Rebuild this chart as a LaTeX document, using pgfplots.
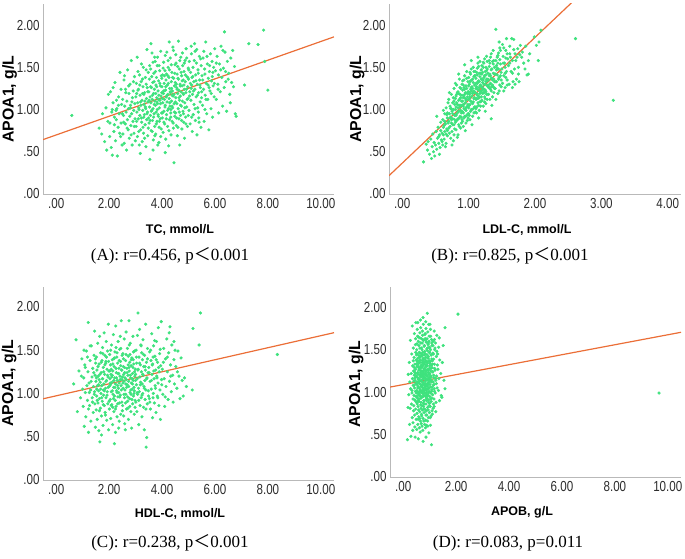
\documentclass[border=0pt]{standalone}
\usepackage{fontspec}
\usepackage{graphicx}
\usepackage{pgfplots}
\pgfplotsset{compat=1.18}
\setmainfont{Liberation Sans}
\newfontfamily\tickfont[FakeStretch=0.8]{Liberation Sans}
\newfontfamily\capfont{Liberation Serif}
\newfontfamily\cjk{Noto Sans CJK SC}
\definecolor{ptgreen}{RGB}{62,226,125}
\definecolor{fitorange}{RGB}{235,110,55}
\definecolor{axgray}{RGB}{185,185,185}
\definecolor{tickgray}{RGB}{45,45,45}
\pgfplotsset{
  panel/.style={
    scale only axis, anchor=south west,
    axis x line*=bottom, axis y line*=left,
    axis line style={axgray, line width=0.8pt, -},
    major tick length=0pt, ymin=0,
    ytick={0,0.5,1,1.5,2}, yticklabels={.00,.50,1.00,1.50,2.00},
    tick label style={font=\tickfont\fontsize{14.5}{15}\selectfont, text=tickgray},
    xticklabel style={yshift=-1pt},
  },
  wide/.style={xmin=-0.5, xmax=10.5, xtick={0,2,4,6,8,10},
    xticklabels={.00,2.00,4.00,6.00,8.00,10.00}},
  pts/.style={only marks, mark=*, color=ptgreen, mark size=1.4pt},
  fit/.style={no marks, fitorange, line width=1.2pt},
}
\newcommand{\ylab}{\bfseries\fontsize{15.8}{16}\selectfont}
\newcommand{\xlab}{\bfseries\fontsize{12.5}{14}\selectfont}
\newcommand{\caplab}{\capfont\fontsize{17}{18}\selectfont}
\begin{document}
\begin{tikzpicture}
\useasboundingbox (0,0) rectangle (685pt,559pt);
% ---------------- (A) TC ----------------
\begin{axis}[panel, wide, at={(43pt,365pt)}, width=291pt, height=190pt, ymax=2.25]
\addplot[pts] coordinates {
(1.62,0.78) (1.75,0.95) (1.83,0.62) (1.88,1.02) (1.91,0.52) (1.95,0.86) (1.97,1.18) (1.72,0.71)
(2.03,0.84) (2.05,1.21) (2.08,0.55) (2.10,0.97) (2.12,0.46) (2.15,1.08) (2.18,0.74) (2.20,0.91) (2.22,1.32) (2.24,0.63) (2.27,0.88) (2.29,1.01) (2.31,0.45) (2.34,0.79) (2.36,1.15) (2.38,0.95) (2.41,1.44) (2.43,0.68) (2.45,0.84) (2.47,1.06) (2.49,0.58) (2.26,0.99)
(2.51,1.12) (2.52,0.71) (2.54,0.93) (2.56,1.35) (2.57,0.60) (2.59,1.04) (2.61,0.83) (2.62,1.24) (2.64,0.97) (2.66,0.52) (2.67,1.10) (2.69,0.88) (2.70,1.47) (2.72,0.76) (2.73,1.01) (2.75,1.19) (2.76,0.66) (2.78,0.92) (2.79,1.30) (2.81,1.05) (2.82,0.81) (2.84,1.58) (2.85,0.95) (2.87,0.58) (2.88,1.14) (2.90,0.86) (2.91,1.22) (2.93,0.99) (2.94,0.72) (2.96,1.39) (2.97,1.07) (2.98,0.89) (2.99,0.63) (2.55,0.85) (2.80,1.02)
(3.01,1.15) (3.02,0.80) (3.03,1.31) (3.05,0.97) (3.06,1.62) (3.07,0.68) (3.08,1.08) (3.10,0.89) (3.11,1.24) (3.12,1.02) (3.14,0.58) (3.15,1.41) (3.16,0.93) (3.17,1.17) (3.19,0.76) (3.20,1.05) (3.21,1.33) (3.23,0.85) (3.24,1.11) (3.25,0.62) (3.27,0.99) (3.28,1.27) (3.29,1.50) (3.30,0.72) (3.32,1.06) (3.33,0.94) (3.34,1.20) (3.36,0.82) (3.37,1.38) (3.38,1.01) (3.39,0.56) (3.41,1.13) (3.42,0.88) (3.43,1.71) (3.44,1.26) (3.45,0.97) (3.46,0.69) (3.47,1.09) (3.48,1.44) (3.49,0.90) (3.13,1.00) (3.22,1.54) (3.35,1.10) (3.18,0.48) (3.26,1.19) (3.31,0.91) (3.40,1.30) (3.09,1.23)
(3.50,1.21) (3.51,0.84) (3.52,1.36) (3.53,1.03) (3.54,0.41) (3.55,1.15) (3.56,0.93) (3.57,1.48) (3.58,1.08) (3.59,0.75) (3.60,1.26) (3.61,0.99) (3.62,1.67) (3.63,1.12) (3.64,0.87) (3.65,1.32) (3.66,1.01) (3.67,0.64) (3.68,1.19) (3.69,1.43) (3.70,0.95) (3.71,1.24) (3.72,0.80) (3.73,1.10) (3.74,1.57) (3.75,1.05) (3.76,0.71) (3.77,1.29) (3.78,0.97) (3.79,1.38) (3.80,1.14) (3.81,0.86) (3.82,1.52) (3.83,1.07) (3.84,0.58) (3.85,1.22) (3.86,0.92) (3.87,1.34) (3.88,1.17) (3.89,0.79) (3.90,1.02) (3.91,1.46) (3.92,1.11) (3.93,0.89) (3.94,1.28) (3.95,0.68) (3.96,1.16) (3.97,1.40) (3.98,0.96) (3.99,1.20) (3.58,1.78) (3.72,1.62) (3.66,0.52) (3.88,0.61) (3.81,1.09)
(4.00,1.27) (4.01,0.90) (4.02,1.41) (4.03,1.08) (4.04,0.73) (4.05,1.19) (4.06,1.56) (4.07,0.98) (4.08,1.31) (4.09,1.12) (4.10,0.83) (4.11,1.46) (4.12,1.05) (4.13,1.23) (4.14,0.65) (4.15,1.35) (4.16,1.15) (4.17,0.94) (4.18,1.68) (4.19,1.09) (4.20,1.29) (4.21,0.80) (4.22,1.18) (4.23,1.50) (4.24,1.01) (4.25,0.57) (4.26,1.38) (4.27,1.13) (4.28,0.88) (4.29,1.25) (4.30,1.04) (4.31,1.61) (4.32,1.20) (4.33,0.96) (4.34,0.70) (4.35,1.33) (4.36,1.10) (4.37,1.44) (4.38,0.86) (4.39,1.22) (4.40,1.02) (4.41,1.74) (4.42,1.16) (4.43,0.78) (4.44,1.37) (4.45,0.37) (4.46,1.07) (4.47,1.28) (4.48,0.92) (4.49,1.53) (4.12,0.49) (4.27,1.80) (4.33,1.00) (4.22,1.40) (4.38,1.17)
(4.50,1.32) (4.51,0.96) (4.52,1.14) (4.53,1.55) (4.54,0.81) (4.55,1.26) (4.56,1.07) (4.57,1.42) (4.58,0.69) (4.59,1.19) (4.60,1.37) (4.61,1.01) (4.62,1.81) (4.63,1.23) (4.64,0.89) (4.65,1.48) (4.66,1.11) (4.67,0.58) (4.68,1.30) (4.69,1.16) (4.70,0.93) (4.71,1.62) (4.72,1.21) (4.73,1.04) (4.74,1.40) (4.75,0.77) (4.76,1.28) (4.77,1.10) (4.78,1.52) (4.79,0.98) (4.80,1.35) (4.81,1.18) (4.82,0.85) (4.83,1.45) (4.84,1.24) (4.85,0.66) (4.86,1.08) (4.87,1.58) (4.88,1.33) (4.89,0.91) (4.90,1.20) (4.91,1.72) (4.93,1.03) (4.94,1.39) (4.96,0.80) (4.97,1.27) (4.98,1.13) (4.99,1.49)
(5.00,1.36) (5.02,0.99) (5.03,1.57) (5.05,1.21) (5.06,0.83) (5.08,1.44) (5.09,1.11) (5.11,1.66) (5.12,1.29) (5.14,0.74) (5.15,1.18) (5.17,1.50) (5.18,0.94) (5.20,1.33) (5.21,1.06) (5.23,1.78) (5.24,1.24) (5.26,0.87) (5.27,1.41) (5.29,1.15) (5.30,1.55) (5.32,0.70) (5.33,1.30) (5.35,1.02) (5.36,1.47) (5.38,1.20) (5.39,0.90) (5.41,1.63) (5.42,1.35) (5.44,1.09) (5.45,1.26) (5.47,0.79) (5.48,1.52) (5.49,1.14) (5.13,1.38) (5.25,1.69) (5.37,0.97) (5.10,1.25)
(5.51,1.40) (5.53,1.05) (5.55,1.61) (5.57,1.24) (5.59,0.86) (5.61,1.48) (5.63,1.17) (5.65,1.80) (5.67,1.31) (5.69,0.95) (5.71,1.54) (5.73,1.12) (5.75,1.37) (5.77,0.76) (5.79,1.45) (5.81,1.22) (5.83,1.66) (5.85,1.01) (5.87,1.34) (5.89,1.57) (5.91,0.91) (5.93,1.28) (5.95,1.50) (5.97,1.15) (5.99,1.72) (5.62,1.00) (5.78,1.26) (5.90,1.39)
(6.02,1.46) (6.05,1.12) (6.08,1.63) (6.11,1.30) (6.14,0.96) (6.17,1.54) (6.20,1.21) (6.23,1.75) (6.26,1.38) (6.29,1.04) (6.32,1.49) (6.35,1.26) (6.38,1.68) (6.41,1.33) (6.44,0.98) (6.47,1.57) (6.36,1.92) (6.13,1.41)
(6.52,1.43) (6.56,1.18) (6.60,1.61) (6.63,1.32) (6.67,1.70) (6.70,1.27) (6.74,1.51) (6.77,0.95) (6.80,0.92) (6.58,1.08)
(0.59,0.93) (8.00,1.23) (7.84,1.94) (7.28,1.78) (7.63,1.77) (7.88,1.57) (7.12,1.29)
};
\addplot[pts] coordinates {
(2.63,1.20) (2.68,0.78) (2.74,1.28) (2.83,0.70) (2.86,1.09) (2.92,1.33) (2.95,0.80) (3.04,1.19) (3.04,0.86) (3.09,1.45) (3.12,0.74) (3.16,1.29) (3.19,1.09) (3.22,0.90) (3.26,1.36) (3.28,0.79) (3.31,1.18) (3.34,0.66) (3.37,1.03) (3.40,1.47) (3.43,0.95) (3.46,1.21) (3.48,0.78) (3.51,1.11) (3.53,1.52) (3.55,0.87) (3.57,1.27) (3.59,0.98) (3.61,1.39) (3.63,0.74) (3.64,1.17) (3.66,1.56) (3.68,0.91) (3.70,1.33) (3.71,1.06) (3.73,0.69) (3.75,1.45) (3.76,1.19) (3.78,0.83) (3.80,1.27) (3.82,1.00) (3.83,1.62) (3.85,0.94) (3.87,1.12) (3.89,1.52) (3.90,0.86) (3.92,1.31) (3.94,1.07) (3.95,1.69) (3.97,0.77) (3.99,1.37)
(4.01,1.13) (4.02,0.96) (4.04,1.49) (4.06,1.22) (4.07,0.85) (4.09,1.40) (4.11,1.03) (4.12,1.64) (4.14,1.27) (4.16,0.89) (4.17,1.42) (4.19,1.17) (4.21,0.99) (4.23,1.58) (4.24,1.31) (4.26,0.75) (4.28,1.47) (4.29,1.08) (4.31,1.21) (4.33,0.91) (4.35,1.53) (4.36,1.25) (4.38,1.04) (4.40,1.38) (4.42,0.84) (4.43,1.70) (4.45,1.18) (4.47,0.97) (4.48,1.43) (4.50,1.09) (4.52,1.65) (4.54,1.30) (4.55,0.90) (4.57,1.24) (4.59,1.51) (4.60,0.79) (4.62,1.36) (4.64,1.14) (4.65,0.97) (4.67,1.58) (4.69,1.28) (4.70,1.05) (4.72,1.44) (4.74,0.87) (4.76,1.34) (4.77,1.67) (4.79,1.19) (4.81,0.95) (4.83,1.29) (4.84,1.55) (4.86,1.02) (4.88,1.41) (4.90,0.83) (4.92,1.24) (4.93,1.61) (4.95,1.12) (4.97,1.38) (4.99,0.93)
(5.01,1.47) (5.04,1.16) (5.07,1.31) (5.10,1.75) (5.12,0.91) (5.16,1.39) (5.19,1.22) (5.22,1.58) (5.25,1.01) (5.28,1.34) (5.31,1.71) (5.34,1.17) (5.37,1.43) (5.40,0.85) (5.43,1.29) (5.46,1.60) (5.50,1.21) (5.54,1.35) (5.58,1.69) (5.62,1.42) (5.66,1.12) (5.70,1.63) (5.74,1.29) (5.80,1.52) (5.86,1.19) (5.92,1.44) (5.98,1.31) (6.05,1.55) (6.12,1.24) (6.22,1.47) (6.30,1.70) (6.40,1.45) (6.50,1.36)
(2.35,1.05) (2.40,0.72) (2.45,1.24) (2.20,0.82) (2.28,1.11) (2.50,0.95) (2.58,1.40) (2.12,1.00) (2.02,0.68) (2.15,1.26)
};
\addplot[fit] coordinates {(-0.5,0.644) (10.5,1.861)};
\end{axis}
% ---------------- (B) LDL-C ----------------
\begin{axis}[panel, at={(389pt,365pt)}, width=292pt, height=190pt, ymax=2.25,
  xmin=-0.2, xmax=4.2, xtick={0,1,2,3,4}, xticklabels={.00,1.00,2.00,3.00,4.00}]
\addplot[pts] coordinates {
(0.32,0.38) (0.36,0.59) (0.38,0.52) (0.39,0.62)
(0.41,0.47) (0.43,0.65) (0.44,0.42) (0.45,0.56) (0.46,0.71) (0.47,0.50) (0.48,0.61) (0.49,0.45)
(0.50,0.58) (0.51,0.74) (0.52,0.53) (0.53,0.66) (0.54,0.79) (0.55,0.60) (0.56,0.70) (0.57,0.55) (0.58,0.85) (0.59,0.64) (0.52,0.92) (0.56,0.47)
(0.60,0.72) (0.61,0.58) (0.61,0.88) (0.62,0.79) (0.63,0.65) (0.64,0.95) (0.64,0.74) (0.65,0.83) (0.66,0.60) (0.66,1.02) (0.67,0.77) (0.68,0.90) (0.68,0.69) (0.69,0.84) (0.69,1.08) (0.62,0.99) (0.65,0.56) (0.67,0.94) (0.63,0.81) (0.68,0.75)
(0.70,0.86) (0.70,1.12) (0.71,0.72) (0.71,0.95) (0.72,0.80) (0.72,1.04) (0.73,0.66) (0.73,0.91) (0.74,1.18) (0.74,0.84) (0.75,0.98) (0.75,0.74) (0.76,1.08) (0.76,0.89) (0.77,0.63) (0.77,1.00) (0.78,0.82) (0.78,1.25) (0.79,0.93) (0.79,0.77) (0.71,1.20) (0.73,1.01) (0.75,0.58) (0.76,0.95) (0.77,1.14) (0.78,0.70) (0.74,0.88) (0.79,1.06)
(0.80,1.00) (0.80,0.85) (0.81,1.16) (0.81,0.76) (0.82,0.95) (0.82,1.29) (0.83,0.88) (0.83,1.06) (0.84,0.70) (0.84,1.21) (0.85,0.98) (0.85,0.82) (0.86,1.12) (0.86,1.36) (0.87,0.92) (0.87,1.03) (0.88,0.78) (0.88,1.25) (0.89,0.96) (0.89,1.10) (0.80,1.31) (0.81,0.93) (0.82,1.08) (0.83,0.67) (0.84,1.02) (0.85,1.42) (0.86,0.90) (0.87,1.18) (0.88,0.99) (0.89,0.84) (0.82,1.18) (0.84,0.89) (0.86,1.05) (0.88,1.14)
(0.90,1.05) (0.90,0.88) (0.91,1.23) (0.91,0.97) (0.92,1.14) (0.92,0.80) (0.93,1.35) (0.93,1.01) (0.94,0.92) (0.94,1.18) (0.95,1.08) (0.95,0.75) (0.96,1.28) (0.96,0.99) (0.97,1.12) (0.97,1.45) (0.98,0.87) (0.98,1.04) (0.99,1.21) (0.99,0.95) (0.90,1.30) (0.91,1.10) (0.92,0.96) (0.93,1.16) (0.94,1.40) (0.95,1.00) (0.96,0.84) (0.97,1.25) (0.98,1.15) (0.99,1.06) (0.91,0.86) (0.93,1.26) (0.95,1.20) (0.97,0.93) (0.99,1.33) (0.92,1.04) (0.96,1.11) (0.94,1.53)
(1.00,1.12) (1.00,0.95) (1.01,1.30) (1.01,1.05) (1.02,1.20) (1.02,0.88) (1.03,1.42) (1.03,1.10) (1.04,1.00) (1.04,1.26) (1.05,1.16) (1.05,0.82) (1.06,1.36) (1.06,1.07) (1.07,1.21) (1.07,1.50) (1.08,0.96) (1.08,1.13) (1.09,1.29) (1.09,1.03) (1.00,1.38) (1.01,1.18) (1.02,1.06) (1.03,1.24) (1.04,1.48) (1.05,1.09) (1.06,0.92) (1.07,1.32) (1.08,1.22) (1.09,1.14) (1.01,0.93) (1.03,1.34) (1.05,1.27) (1.07,1.01) (1.09,1.40) (1.02,1.15) (1.06,1.19) (1.04,1.58) (1.08,1.45) (1.00,1.02)
(1.10,1.20) (1.10,1.03) (1.11,1.37) (1.11,1.12) (1.12,1.27) (1.12,0.96) (1.13,1.49) (1.13,1.17) (1.14,1.08) (1.14,1.33) (1.15,1.23) (1.15,0.90) (1.16,1.43) (1.16,1.14) (1.17,1.28) (1.17,1.57) (1.18,1.04) (1.18,1.21) (1.19,1.36) (1.19,1.10) (1.10,1.45) (1.11,1.25) (1.12,1.13) (1.13,1.31) (1.14,1.55) (1.15,1.16) (1.16,0.99) (1.17,1.39) (1.18,1.29) (1.19,1.22) (1.11,1.01) (1.13,1.41) (1.15,1.34) (1.17,1.09) (1.19,1.47) (1.12,1.19) (1.16,1.26) (1.14,1.62)
(1.20,1.27) (1.20,1.11) (1.21,1.44) (1.21,1.19) (1.22,1.35) (1.22,1.04) (1.23,1.55) (1.23,1.24) (1.24,1.15) (1.24,1.40) (1.25,1.30) (1.25,0.98) (1.26,1.50) (1.26,1.21) (1.27,1.36) (1.27,1.63) (1.28,1.12) (1.28,1.28) (1.29,1.43) (1.29,1.18) (1.20,1.52) (1.21,1.32) (1.22,1.20) (1.23,1.38) (1.24,1.60) (1.25,1.23) (1.26,1.07) (1.27,1.46) (1.28,1.34) (1.29,1.29) (1.22,1.25) (1.24,1.09) (1.26,1.41) (1.28,1.57)
(1.30,1.35) (1.30,1.18) (1.31,1.51) (1.31,1.26) (1.32,1.42) (1.32,1.12) (1.33,1.62) (1.33,1.31) (1.34,1.22) (1.34,1.47) (1.35,1.37) (1.35,1.05) (1.36,1.57) (1.36,1.29) (1.37,1.43) (1.37,1.70) (1.38,1.20) (1.38,1.36) (1.39,1.50) (1.39,1.25) (1.31,1.58) (1.33,1.40) (1.35,1.27) (1.37,1.54) (1.39,1.33) (1.34,0.89) (1.36,1.15) (1.34,1.66)
(1.40,1.42) (1.40,1.25) (1.41,1.58) (1.42,1.33) (1.43,1.49) (1.44,1.19) (1.45,1.67) (1.46,1.38) (1.47,1.29) (1.48,1.54) (1.49,1.44) (1.41,1.12) (1.43,1.62) (1.45,1.36) (1.47,1.73) (1.49,1.27) (1.42,1.47) (1.44,1.55) (1.46,1.22) (1.48,1.40) (1.41,1.95) (1.46,1.80)
(1.50,1.48) (1.51,1.31) (1.52,1.63) (1.53,1.40) (1.54,1.55) (1.55,1.26) (1.56,1.70) (1.57,1.45) (1.58,1.35) (1.59,1.60) (1.51,1.77) (1.53,1.22) (1.55,1.50) (1.57,1.84) (1.58,1.29) (1.56,1.38)
(1.60,1.52) (1.61,1.30) (1.62,1.66) (1.64,1.45) (1.65,1.84) (1.66,1.58) (1.67,1.33) (1.68,1.71) (1.69,1.48) (1.63,1.62) (1.66,1.26) (1.68,1.83)
(1.71,1.58) (1.72,1.36) (1.74,1.72) (1.75,1.50) (1.77,1.65) (1.78,1.76) (1.73,1.62)
(1.81,1.68) (1.83,1.55) (1.86,1.75) (1.88,1.41) (1.90,1.58) (1.90,1.42)
(1.99,1.86) (2.06,1.80) (2.09,1.94) (2.02,1.76) (2.05,1.58)
(2.61,1.84) (3.18,1.11)
};
\addplot[pts] coordinates {
(0.72,0.90) (0.74,1.01) (0.76,0.82) (0.78,1.10) (0.79,0.88) (0.81,1.03) (0.82,0.87) (0.83,1.20) (0.84,0.97) (0.85,1.11) (0.86,0.80) (0.87,1.26) (0.88,1.05) (0.89,0.91) (0.90,1.17) (0.91,1.34) (0.92,1.06) (0.93,0.90) (0.94,1.24) (0.95,1.13) (0.96,1.02) (0.97,1.37) (0.98,1.19) (0.99,0.90)
(1.00,1.28) (1.01,1.13) (1.02,1.44) (1.03,0.98) (1.04,1.22) (1.05,1.35) (1.06,1.25) (1.07,1.09) (1.08,1.39) (1.09,1.20) (1.10,0.97) (1.11,1.31) (1.12,1.44) (1.13,1.24) (1.14,1.13) (1.15,1.51) (1.16,1.33) (1.17,1.19) (1.18,1.43) (1.19,1.15) (1.20,1.36) (1.21,1.24) (1.22,1.50) (1.23,1.30) (1.24,1.20) (1.25,1.45) (1.26,1.33) (1.27,1.18) (1.28,1.48) (1.29,1.36)
(1.30,1.26) (1.31,1.40) (1.32,1.55) (1.33,1.24) (1.34,1.37) (1.35,1.48) (1.36,1.35) (1.37,1.27) (1.38,1.58) (1.39,1.42) (1.40,1.33) (1.42,1.52) (1.43,1.41) (1.45,1.48) (1.47,1.59) (1.49,1.35) (1.52,1.55) (1.55,1.43) (1.58,1.66) (1.62,1.55) (1.66,1.43) (1.70,1.66)
(0.66,0.71) (0.68,0.96) (0.70,0.78) (0.64,0.86) (0.62,0.70) (0.58,0.75) (0.55,0.68) (0.60,0.62) (1.05,1.00) (0.95,0.92) (1.15,1.05) (1.00,1.21) (0.90,0.98) (1.10,1.40) (1.25,1.13) (1.20,1.42) (0.85,1.19) (0.80,1.13) (0.92,1.29) (1.02,1.33) (1.12,1.03) (1.22,1.56) (1.32,1.30) (1.44,1.64) (1.53,1.73) (1.62,1.75) (1.75,1.42) (1.80,1.62) (1.85,1.48) (1.70,1.30) (1.76,1.33) (1.92,1.66) (1.56,1.61) (1.48,1.70)
};
\addplot[fit] coordinates {(-0.2,0.217) (2.8,2.45)};
\end{axis}
% ---------------- (C) HDL-C ----------------
\begin{axis}[panel, wide, at={(43pt,79pt)}, width=291pt, height=193pt, ymax=2.23]
\addplot[pts] coordinates {
(0.66,1.11) (0.75,1.62) (0.80,0.79) (0.86,1.26) (0.92,0.95) (0.97,1.40)
(1.02,0.85) (1.04,1.18) (1.06,0.62) (1.08,1.33) (1.10,1.01) (1.12,0.73) (1.14,1.49) (1.16,1.09) (1.18,0.92) (1.20,1.25) (1.21,1.82) (1.22,0.55) (1.24,1.12) (1.26,0.86) (1.28,1.38) (1.30,1.04) (1.31,0.68) (1.33,1.55) (1.35,1.19) (1.36,0.95) (1.38,1.29) (1.40,0.78) (1.41,1.08) (1.43,1.44) (1.44,0.99) (1.45,1.72) (1.46,0.88) (1.47,1.21) (1.48,0.61) (1.49,1.35)
(1.50,1.14) (1.51,0.81) (1.52,1.42) (1.53,0.97) (1.54,1.27) (1.55,0.70) (1.56,1.09) (1.57,1.58) (1.58,0.89) (1.59,1.20) (1.60,1.03) (1.61,0.57) (1.62,1.34) (1.63,0.94) (1.64,1.66) (1.65,0.44) (1.66,1.13) (1.67,0.83) (1.68,1.47) (1.69,1.00) (1.70,1.24) (1.71,0.74) (1.72,1.09) (1.73,1.38) (1.74,0.91) (1.75,1.53) (1.76,1.17) (1.77,0.63) (1.78,1.30) (1.79,0.98) (1.80,1.11) (1.81,1.70) (1.82,0.86) (1.83,1.22) (1.84,1.44) (1.85,0.78) (1.86,1.06) (1.87,1.35) (1.88,0.95) (1.89,1.60) (1.90,1.15) (1.91,0.69) (1.92,1.28) (1.93,1.02) (1.94,1.49) (1.95,0.88) (1.96,1.19) (1.97,1.80) (1.98,0.58) (1.99,1.26) (1.53,1.05) (1.62,1.16) (1.71,0.52) (1.78,1.04) (1.88,1.37)
(2.00,1.08) (2.01,0.82) (2.02,1.45) (2.03,1.17) (2.04,0.93) (2.05,1.33) (2.06,0.71) (2.07,1.22) (2.08,1.02) (2.09,1.56) (2.10,0.87) (2.11,1.13) (2.12,1.39) (2.13,0.64) (2.14,1.26) (2.15,0.99) (2.16,1.68) (2.17,1.07) (2.18,0.79) (2.19,1.31) (2.20,0.42) (2.21,1.18) (2.22,1.48) (2.23,0.92) (2.24,1.11) (2.25,1.78) (2.26,0.85) (2.27,1.24) (2.28,1.03) (2.29,1.42) (2.30,0.73) (2.31,1.15) (2.32,1.35) (2.33,0.96) (2.34,1.60) (2.35,1.06) (2.36,0.60) (2.37,1.29) (2.38,1.12) (2.39,0.89) (2.40,1.51) (2.41,1.20) (2.42,0.98) (2.43,1.37) (2.44,0.76) (2.45,1.09) (2.46,1.84) (2.47,1.27) (2.48,0.90) (2.49,1.44) (2.05,1.10) (2.12,1.21) (2.18,1.40) (2.24,0.55) (2.30,1.01) (2.36,1.23) (2.42,1.66) (2.48,1.16) (2.08,1.28) (2.20,0.97) (2.32,1.09) (2.44,1.32) (2.14,0.84) (2.26,1.53) (2.38,0.68)
(2.50,1.19) (2.51,0.86) (2.52,1.46) (2.53,1.06) (2.54,1.31) (2.55,0.74) (2.56,1.14) (2.57,1.63) (2.58,0.95) (2.59,1.24) (2.60,1.04) (2.61,0.58) (2.62,1.38) (2.63,0.99) (2.64,1.71) (2.65,1.16) (2.66,0.82) (2.67,1.29) (2.68,1.10) (2.69,1.52) (2.70,0.91) (2.71,1.21) (2.72,1.43) (2.73,0.70) (2.74,1.08) (2.75,1.84) (2.76,1.26) (2.77,0.94) (2.78,1.36) (2.79,1.01) (2.80,1.58) (2.81,1.18) (2.82,0.79) (2.83,1.32) (2.84,1.12) (2.85,0.60) (2.86,1.41) (2.87,1.05) (2.88,1.23) (2.89,0.88) (2.90,1.66) (2.91,1.15) (2.92,0.97) (2.93,1.34) (2.94,1.07) (2.95,0.76) (2.96,1.49) (2.97,1.20) (2.98,0.92) (2.99,1.28) (2.55,1.22) (2.63,1.11) (2.71,0.83) (2.79,1.45) (2.87,1.17) (2.95,1.03) (2.59,0.65) (2.75,1.30) (2.83,0.99) (2.91,1.39)
(3.00,1.22) (3.01,0.90) (3.02,1.50) (3.03,1.10) (3.04,1.35) (3.05,0.79) (3.06,1.17) (3.07,1.67) (3.08,0.99) (3.09,1.93) (3.10,1.28) (3.11,1.06) (3.12,0.64) (3.13,1.42) (3.14,1.02) (3.15,1.74) (3.16,1.19) (3.17,0.86) (3.18,1.33) (3.19,1.13) (3.20,1.56) (3.21,0.95) (3.22,1.25) (3.23,1.47) (3.24,0.73) (3.25,1.11) (3.26,1.39) (3.27,1.00) (3.28,1.62) (3.29,1.21) (3.30,0.84) (3.31,1.31) (3.32,1.08) (3.33,0.58) (3.34,1.44) (3.35,1.15) (3.36,0.93) (3.37,1.27) (3.38,1.80) (3.39,1.04) (3.40,0.38) (3.41,1.36) (3.42,0.49) (3.43,1.18) (3.44,0.88) (3.45,1.52) (3.47,1.24) (3.49,0.97)
(3.50,1.30) (3.52,0.94) (3.53,1.48) (3.55,1.14) (3.56,0.82) (3.58,1.38) (3.59,1.05) (3.61,1.69) (3.62,1.22) (3.64,0.72) (3.65,1.34) (3.67,1.00) (3.68,1.55) (3.70,1.17) (3.71,0.89) (3.73,1.43) (3.74,1.09) (3.76,1.27) (3.77,0.78) (3.79,1.60) (3.80,1.20) (3.82,0.97) (3.83,1.36) (3.85,1.12) (3.86,1.76) (3.88,0.86) (3.89,1.25) (3.91,1.46) (3.92,1.04) (3.94,0.70) (3.95,1.32) (3.97,1.83) (3.98,1.16) (3.66,1.42) (3.84,0.95)
(4.01,1.28) (4.03,0.99) (4.06,1.52) (4.08,1.17) (4.10,0.85) (4.13,1.40) (4.15,1.08) (4.18,1.63) (4.20,1.25) (4.23,0.93) (4.25,1.47) (4.28,1.14) (4.30,1.77) (4.32,1.33) (4.35,1.02) (4.37,1.56) (4.40,1.21) (4.42,0.90) (4.45,1.39) (4.47,1.11) (4.49,1.50) (4.27,1.70)
(4.52,1.31) (4.56,1.06) (4.60,1.49) (4.64,1.20) (4.68,0.94) (4.72,1.41) (4.76,1.15) (4.80,0.97) (4.85,1.18) (4.92,1.08)
(5.14,1.04) (5.17,1.75) (5.40,1.56) (5.45,1.93) (8.36,1.45)
};
\addplot[pts] coordinates {
(1.32,1.14) (1.37,0.90) (1.42,1.24) (1.45,1.02) (1.48,1.40) (1.52,1.18) (1.55,0.92) (1.58,1.31) (1.60,1.10) (1.63,0.80) (1.65,1.22) (1.68,1.05) (1.70,1.36) (1.72,0.95) (1.74,1.17) (1.76,1.46) (1.78,0.87) (1.80,1.25) (1.82,1.03) (1.84,1.33) (1.86,0.75) (1.88,1.14) (1.90,1.42) (1.92,0.98) (1.94,1.21) (1.96,1.07) (1.98,1.37)
(2.00,0.91) (2.02,1.26) (2.04,1.12) (2.06,1.50) (2.08,0.86) (2.10,1.19) (2.12,1.03) (2.14,1.34) (2.16,0.94) (2.18,1.15) (2.20,1.41) (2.22,1.07) (2.24,0.82) (2.26,1.29) (2.28,1.18) (2.30,1.47) (2.32,0.88) (2.34,1.23) (2.36,1.01) (2.38,1.38) (2.40,0.96) (2.42,1.16) (2.44,1.52) (2.46,1.04) (2.48,1.27)
(2.50,0.80) (2.52,1.12) (2.54,1.40) (2.56,0.99) (2.58,1.30) (2.60,1.18) (2.62,0.89) (2.64,1.45) (2.66,1.07) (2.68,1.24) (2.70,0.96) (2.72,1.33) (2.74,1.14) (2.76,1.56) (2.78,0.85) (2.80,1.21) (2.82,1.04) (2.84,1.39) (2.86,0.93) (2.88,1.11) (2.90,1.30) (2.92,1.48) (2.94,1.00) (2.96,1.25) (2.98,0.84)
(3.00,1.15) (3.03,1.42) (3.06,1.01) (3.09,1.27) (3.12,0.92) (3.15,1.35) (3.18,1.10) (3.21,1.55) (3.24,0.98) (3.27,1.22) (3.30,1.45) (3.33,1.06) (3.36,1.31) (3.39,0.82) (3.42,1.17) (3.45,1.40) (3.48,1.03) (3.51,1.24) (3.54,0.90) (3.57,1.50) (3.60,1.15) (3.63,1.33) (3.66,0.95) (3.69,1.26) (3.72,1.61) (3.75,1.06) (3.78,1.39) (3.81,1.18) (3.87,1.30) (3.93,1.51) (3.99,1.10)
(4.05,1.36) (4.12,0.96) (4.20,1.42) (4.33,1.20) (4.45,1.60) (4.58,1.25) (1.10,1.30) (1.18,1.42) (1.25,1.01) (1.00,1.05) (1.05,1.50) (0.95,1.20) (1.22,0.82) (1.28,1.55)
};
\addplot[fit] coordinates {(-0.5,0.938) (10.5,1.702)};
\end{axis}
% ---------------- (D) APOB ----------------
\begin{axis}[panel, wide, at={(390pt,82pt)}, width=291pt, height=190pt, ymax=2.24]
\addplot[pts] coordinates {
(0.16,0.44) (0.18,0.82) (0.19,1.21)
(0.21,0.97) (0.23,1.35) (0.24,0.62) (0.25,1.12) (0.26,0.81) (0.27,1.61) (0.28,1.04) (0.29,0.48)
(0.30,1.22) (0.31,0.86) (0.32,1.45) (0.33,0.99) (0.34,1.78) (0.34,0.70) (0.35,1.16) (0.36,0.55) (0.36,1.31) (0.37,0.92) (0.38,1.08) (0.38,1.52) (0.39,0.78) (0.39,1.25) (0.33,1.02) (0.37,0.64)
(0.40,1.13) (0.40,0.84) (0.41,1.41) (0.41,0.96) (0.42,1.69) (0.42,1.20) (0.43,0.73) (0.43,1.05) (0.44,1.33) (0.44,0.59) (0.45,1.17) (0.45,0.90) (0.46,1.56) (0.46,1.01) (0.47,0.80) (0.47,1.27) (0.48,1.10) (0.48,1.82) (0.49,0.68) (0.49,1.38) (0.41,1.08) (0.43,1.24) (0.45,0.47) (0.47,1.47) (0.49,0.99) (0.44,1.14)
(0.50,1.19) (0.50,0.88) (0.51,1.50) (0.51,1.02) (0.52,0.75) (0.52,1.30) (0.53,1.11) (0.53,1.74) (0.54,0.93) (0.54,1.23) (0.55,0.62) (0.55,1.40) (0.56,1.07) (0.56,0.83) (0.57,1.60) (0.57,1.15) (0.58,0.97) (0.58,1.34) (0.59,0.71) (0.59,1.26) (0.50,1.44) (0.51,0.56) (0.52,1.09) (0.53,1.36) (0.54,1.00) (0.55,1.82) (0.56,1.21) (0.57,0.90) (0.58,1.12) (0.59,1.55) (0.52,0.95) (0.54,1.66) (0.56,1.32) (0.58,0.79) (0.55,1.05) (0.57,0.45)
(0.60,1.16) (0.60,0.92) (0.61,1.47) (0.61,1.05) (0.62,0.77) (0.62,1.28) (0.63,1.13) (0.63,1.70) (0.64,0.96) (0.64,1.21) (0.65,0.66) (0.65,1.38) (0.66,1.09) (0.66,0.85) (0.67,1.58) (0.67,1.18) (0.68,1.00) (0.68,1.32) (0.69,0.74) (0.69,1.25) (0.60,1.43) (0.61,0.58) (0.62,1.10) (0.63,1.35) (0.64,1.03) (0.65,1.85) (0.66,1.23) (0.67,0.88) (0.68,1.14) (0.69,1.52) (0.61,0.99) (0.63,1.64) (0.65,1.30) (0.67,0.81) (0.69,1.07) (0.62,1.41) (0.64,0.53) (0.66,1.76) (0.68,0.94) (0.60,1.26) (0.64,1.19) (0.68,0.63)
(0.70,1.20) (0.70,0.94) (0.71,1.50) (0.71,1.08) (0.72,0.79) (0.72,1.30) (0.73,1.15) (0.73,1.72) (0.74,0.98) (0.74,1.24) (0.75,0.69) (0.75,1.40) (0.76,1.11) (0.76,0.87) (0.77,1.61) (0.77,1.19) (0.78,1.02) (0.78,1.35) (0.79,0.76) (0.79,1.27) (0.70,1.45) (0.71,0.60) (0.72,1.12) (0.73,1.37) (0.74,1.05) (0.75,1.88) (0.76,1.25) (0.77,0.90) (0.78,1.16) (0.79,1.54) (0.71,1.01) (0.73,1.67) (0.75,1.32) (0.77,0.83) (0.79,1.09) (0.72,1.43) (0.74,0.55) (0.76,1.80) (0.78,0.96) (0.70,1.29) (0.74,1.18) (0.78,0.66) (0.75,0.42) (0.72,1.58) (0.76,1.03) (0.79,1.22)
(0.80,1.17) (0.80,0.90) (0.81,1.48) (0.81,1.06) (0.82,0.80) (0.82,1.33) (0.83,1.13) (0.83,1.69) (0.84,0.95) (0.84,1.22) (0.85,0.67) (0.85,1.41) (0.86,1.10) (0.86,0.86) (0.87,1.59) (0.87,1.20) (0.88,1.00) (0.88,1.36) (0.89,0.73) (0.89,1.26) (0.80,1.44) (0.81,0.62) (0.82,1.09) (0.83,1.38) (0.84,1.04) (0.85,1.83) (0.86,1.24) (0.87,0.92) (0.88,1.15) (0.89,1.51) (0.81,0.99) (0.83,1.63) (0.85,1.30) (0.87,0.78) (0.89,1.07) (0.82,1.45) (0.84,0.58) (0.86,1.75) (0.88,0.97) (0.80,1.28) (0.84,1.16) (0.88,0.61) (0.82,1.21) (0.86,0.47)
(0.90,1.19) (0.90,0.93) (0.91,1.49) (0.91,1.07) (0.92,0.82) (0.92,1.34) (0.93,1.14) (0.93,1.71) (0.94,0.98) (0.94,1.23) (0.95,0.70) (0.95,1.42) (0.96,1.11) (0.96,0.88) (0.97,1.60) (0.97,1.21) (0.98,1.01) (0.98,1.37) (0.99,0.76) (0.99,1.28) (0.91,1.93) (0.92,1.10) (0.93,0.60) (0.94,1.40) (0.95,1.04) (0.96,1.80) (0.97,0.91) (0.98,1.17) (0.99,1.53) (0.90,1.31) (0.92,0.66) (0.94,1.56) (0.96,1.26) (0.98,0.84) (0.90,1.03) (0.93,1.27) (0.97,0.52) (0.95,1.16)
(1.00,1.22) (1.00,0.95) (1.01,1.52) (1.01,1.09) (1.02,0.83) (1.02,1.36) (1.03,1.15) (1.03,1.74) (1.04,0.99) (1.04,1.25) (1.05,0.72) (1.05,1.44) (1.06,1.12) (1.06,0.89) (1.07,1.62) (1.07,0.38) (1.08,1.03) (1.08,1.39) (1.09,0.78) (1.09,1.29) (1.00,1.47) (1.02,1.06) (1.04,1.66) (1.06,1.32) (1.08,0.93) (1.01,1.80) (1.03,0.61) (1.05,1.18) (1.07,1.01) (1.09,1.55)
(1.10,1.24) (1.11,0.97) (1.12,1.55) (1.13,1.12) (1.14,0.86) (1.15,1.39) (1.16,1.17) (1.17,1.72) (1.18,1.01) (1.19,1.28) (1.10,0.74) (1.12,1.46) (1.14,1.08) (1.16,0.92) (1.18,1.62) (1.11,1.33) (1.13,0.81) (1.15,1.20) (1.17,1.04) (1.19,1.50)
(1.20,1.26) (1.21,0.99) (1.22,1.58) (1.23,1.14) (1.24,0.88) (1.25,1.42) (1.26,1.19) (1.27,1.67) (1.28,1.05) (1.29,1.32) (1.23,0.77) (1.27,1.48)
(1.31,1.27) (1.33,1.02) (1.34,1.53) (1.35,1.16) (1.37,0.90) (1.38,1.38) (1.36,1.64)
(1.42,1.22) (1.44,0.96) (1.46,0.94) (1.48,1.35)
(1.51,1.55) (1.54,1.14) (1.58,1.76) (1.58,1.04)
(2.07,1.92) (9.67,0.99)
};
\addplot[pts] coordinates {
(0.46,1.22) (0.48,0.95) (0.50,1.33) (0.51,1.12) (0.53,0.86) (0.54,1.45) (0.55,1.17) (0.57,1.00) (0.58,1.29) (0.59,0.89) (0.60,1.37) (0.61,1.14) (0.62,0.96) (0.63,1.52) (0.64,1.26) (0.65,1.02) (0.66,1.42) (0.67,0.93) (0.68,1.21) (0.69,1.63)
(0.70,1.08) (0.71,0.84) (0.72,1.35) (0.73,1.00) (0.74,1.47) (0.75,1.22) (0.76,0.95) (0.77,1.39) (0.78,1.10) (0.79,0.86) (0.80,1.55) (0.81,1.26) (0.82,0.99) (0.83,1.45) (0.84,1.08) (0.85,1.21) (0.86,1.62) (0.87,1.03) (0.88,1.31) (0.89,0.90)
(0.90,1.44) (0.91,1.19) (0.92,0.96) (0.93,1.36) (0.94,1.09) (0.95,1.58) (0.96,1.23) (0.97,1.05) (0.98,1.47) (0.99,1.13) (1.00,0.87) (1.01,1.34) (1.02,1.20) (1.03,1.50) (1.04,0.92) (1.05,1.28) (1.06,1.44) (1.07,1.14) (1.08,1.58) (1.09,1.06)
(1.10,1.37) (1.12,1.24) (1.14,1.45) (1.16,1.09) (1.18,1.33) (1.20,1.52) (1.22,1.16) (0.58,1.65) (0.62,0.69) (0.66,1.58) (0.70,0.72) (0.74,1.62) (0.78,0.80) (0.82,1.68) (0.86,0.73) (0.90,1.63) (0.94,0.79) (0.98,1.66) (1.02,0.70)
(0.52,1.57) (0.56,0.68) (0.60,1.00) (0.64,1.46) (0.68,1.07) (0.72,1.21) (0.76,1.34) (0.80,1.02) (0.84,1.36) (0.88,1.19) (0.92,1.52) (0.96,1.00) (1.00,1.31) (1.04,1.18) (0.42,1.29) (0.44,0.91) (0.47,1.63) (0.38,1.37) (1.13,1.60) (1.17,0.83) (1.25,1.10) (1.30,1.45)
};
\addplot[fit] coordinates {(-0.5,1.060) (10.5,1.706)};
\end{axis}
% ---------------- labels ----------------
\node[rotate=90, font=\ylab] at (9.5pt,460pt) {APOA1, g/L};
\node[rotate=90, font=\ylab] at (357pt,460pt) {APOA1, g/L};
\node[rotate=90, font=\ylab] at (9pt,176pt) {APOA1, g/L};
\node[rotate=90, font=\ylab] at (356pt,175pt) {APOA1, g/L};
\node[font=\xlab] at (180pt,329pt) {TC, mmol/L};
\node[font=\xlab] at (527pt,329pt) {LDL-C, mmol/L};
\node[font=\xlab] at (180pt,45pt) {HDL-C, mmol/L};
\node[font=\xlab] at (522pt,47pt) {APOB, g/L};
\node[font=\caplab] at (170pt,303pt) {(A): r=0.456, p{\cjk ＜}0.001};
\node[font=\caplab] at (510pt,303pt) {(B): r=0.825, p{\cjk ＜}0.001};
\node[font=\caplab] at (170pt,16pt) {(C): r=0.238, p{\cjk ＜}0.001};
\node[font=\caplab] at (508pt,16pt) {(D): r=0.083, p=0.011};
\end{tikzpicture}
\end{document}
